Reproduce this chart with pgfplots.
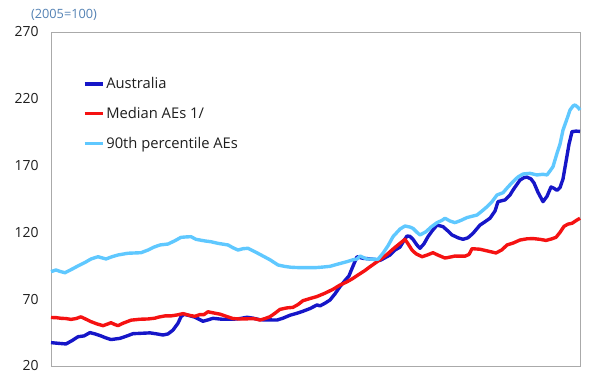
\documentclass[border=0pt]{standalone}
\usepackage{pgfplots}
\pgfplotsset{compat=1.18}
\usepackage{fontspec}
\setmainfont{Open Sans}
\definecolor{ausblue}{RGB}{22,22,200}
\definecolor{medred}{RGB}{245,18,18}
\definecolor{pctblue}{RGB}{95,200,255}
\definecolor{frame}{RGB}{170,170,170}
\definecolor{titleblue}{RGB}{84,130,180}
\definecolor{ticktext}{RGB}{30,30,30}
\begin{document}
\begin{tikzpicture}
\useasboundingbox (-51bp,-16bp) rectangle (543bp,366bp);
\begin{axis}[
  at={(0,0)}, anchor=south west,
  scale only axis, width=529bp, height=334bp,
  xmin=51, xmax=580, ymin=20, ymax=270,
  xtick=\empty,
  ytick={20,70,120,170,220,270},
  major tick length=0pt,
  axis line style={draw=frame, line width=0.8pt},
  /pgf/number format/assume math mode=true,
  yticklabel style={font=\fontsize{14}{16}\selectfont, text=ticktext, xshift=-9bp},
  legend style={at={(rel axis cs:0.06,0.87)}, anchor=north west, draw=none, fill=none,
    font=\fontsize{14.8}{17}\selectfont, text=ticktext, row sep=13bp, inner sep=0pt},
  legend cell align=left,
  legend image code/.code={\draw[#1, line width=3.4pt] (0bp,0bp) -- (18bp,0bp);},
  clip=false,
]
\addplot[color=ausblue, line width=3.4pt, line join=round] coordinates {
(51,37.5) (58,37.0) (66,36.5) (72,39) (78,41.9) (84,42.5) (90,45.0) (95,44) (101,42.5) (106,41) (111,39.8) (120,40.7) (127,42.5) (133,44.2) (142,44.5) (150,44.8) (157,44) (163,43.2) (168,44) (173,46.9) (178,52) (181,56.9) (184,58.7) (189,57.8) (195,56.5) (203,53.5) (208,54.5) (213,55.7) (222,55) (233,55) (240,55.5) (247,56.5) (253,55.8) (260,54.6) (270,54.5) (277,54.4) (283,55.8) (290,58) (297,59.5) (303,61) (310,63) (317,65.7) (320,65) (325,67) (330,69.4) (335,74) (340,79.4) (345,84) (349,87.5) (352,93) (357,101.8) (363,100.6) (368,100.3) (373,99.9) (380,99) (385,101) (390,103.1) (395,106.8) (400,109) (404,114) (407,117.3) (410,117) (413,114.8) (417,110.5) (420,108.1) (424,111.5) (428,116.8) (432,121) (437,125.5) (443,124.3) (448,121) (452,118.1) (458,116) (463,114.8) (468,116) (473,119.3) (480,125.5) (485,128) (490,130.6) (495,136) (498,143) (505,144.3) (510,148) (513,151.7) (517,156) (520,159.2) (524,161) (527,161.4) (531,160) (534,157) (538,150) (543,143) (547,147) (551,154) (554,153) (557,151.5) (560,153.5) (563,160) (566,173) (569,186) (572,195.4) (576,195.8) (580,195.6)
};
\addlegendentry{Australia}
\addplot[color=medred, line width=3.4pt, line join=round] coordinates {
(51,56.3) (56,56.2) (61,55.7) (66,55.5) (71,54.9) (76,55.5) (81,56.8) (86,55) (91,53.2) (97,51.5) (103,50.2) (108,51.5) (111,52.4) (115,51) (118,50.2) (123,52) (131,54.3) (140,55) (148,55.2) (155,55.8) (158,56.5) (165,57.5) (171,57.5) (177,58.2) (183,59.2) (190,57.8) (195,57.2) (200,58.5) (204,58.5) (208,60.6) (213,59.8) (220,58.8) (227,57) (233,55.5) (240,55.2) (247,55.3) (253,55.5) (257,55) (260,54.4) (265,55.5) (270,56.9) (275,59.5) (280,62.4) (287,63.5) (293,63.9) (298,66) (303,68.9) (310,70.5) (317,72) (325,74.5) (333,77.4) (340,80.6) (347,83) (353,85.6) (358,88.1) (365,91.5) (370,94.3) (378,98.5) (387,103.5) (393,107.5) (398,110.6) (402,113) (405,114.8) (408,111.5) (412,106.8) (416,104) (422,101.8) (427,103) (433,104.8) (438,103) (445,100.8) (450,101.5) (455,102.3) (465,102.2) (469,103.5) (472,107.8) (480,107.4) (488,106) (496,104.6) (502,107) (507,110.6) (513,112) (520,114.3) (527,115.2) (533,115.4) (540,114.8) (546,114) (551,115) (556,116.3) (560,120) (564,124.5) (568,126.2) (572,126.8) (576,128.8) (580,130.6)
};
\addlegendentry{Median AEs 1/}
\addplot[color=pctblue, line width=3.4pt, line join=round] coordinates {
(51,90.6) (56,91.9) (60,90.8) (65,89.8) (72,92.5) (78,94.9) (85,97.5) (91,100.1) (98,101.8) (106,100.1) (112,101.8) (118,103.1) (128,104.4) (141,104.8) (148,106.8) (154,109) (160,110.6) (168,111.3) (175,113.8) (181,116.3) (186,116.6) (191,116.8) (196,114.8) (205,113.6) (211,113.0) (218,111.8) (228,110.6) (233,108.5) (238,106.8) (243,107.8) (248,108.1) (255,105.5) (261,103.1) (270,99.5) (278,95.6) (285,94.5) (291,93.9) (300,93.6) (315,93.6) (322,94) (330,94.6) (338,96.3) (347,98.1) (353,99.5) (357,100.1) (360,102.3) (364,101) (367,100.1) (373,100) (378,99.9) (383,104.4) (388,110) (393,116.8) (400,122.5) (405,124.8) (410,124) (413,123) (417,120) (420,118.1) (426,120.5) (431,124) (437,127.3) (442,129) (445,130.6) (450,128.5) (455,127.3) (461,129) (467,131.1) (477,133) (482,136) (487,139.2) (492,143) (497,148) (503,149.7) (508,154) (513,158) (518,161.5) (523,163.7) (530,164.2) (537,163) (543,163.5) (547,163) (550,166) (553,169.2) (557,179.2) (560,186) (563,196.6) (567,205) (570,211.6) (573,214.6) (575,215.4) (578,213.6) (580,211.6)
};
\addlegendentry{90th percentile AEs}
\end{axis}
\node[anchor=center, text=titleblue, font=\fontsize{12.8}{15}\selectfont] at (13bp,351bp) {(2005=100)};
\end{tikzpicture}
\end{document}
